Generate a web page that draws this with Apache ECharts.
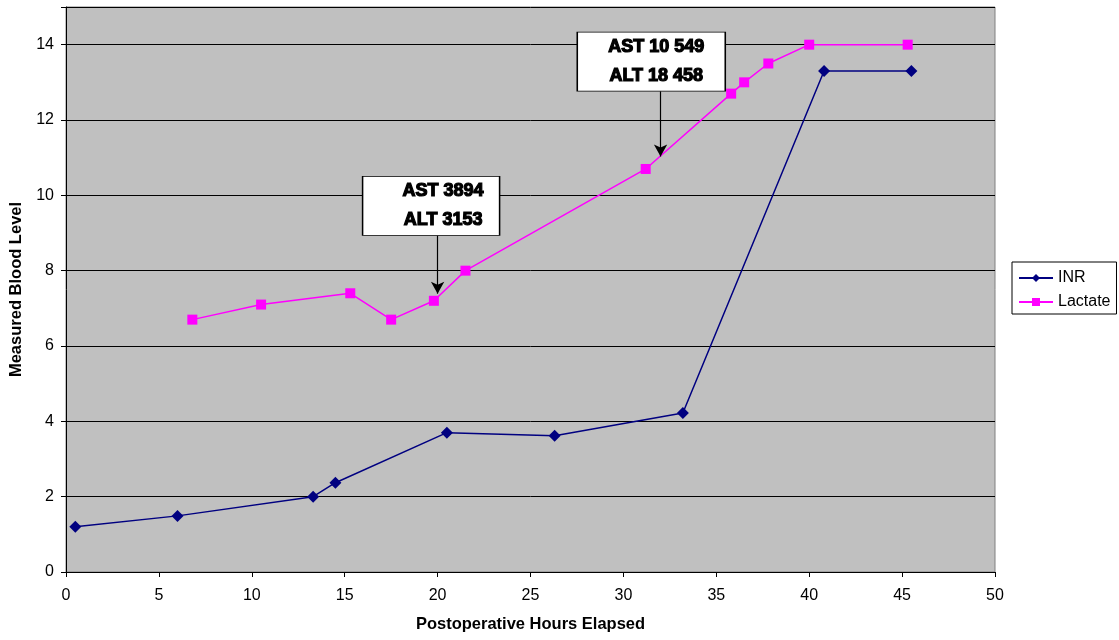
<!DOCTYPE html>
<html>
<head>
<meta charset="utf-8">
<script src="https://cdn.jsdelivr.net/npm/echarts@6/dist/echarts.min.js"></script>
<style>
html,body{margin:0;padding:0;background:#fff;}
#chart{width:1119px;height:640px;}
</style>
</head>
<body>
<div id="chart"></div>
<script>
// Data
var inrHours = [0.5, 6.0, 13.3, 14.5, 20.5, 26.3, 33.2, 40.8, 45.5];
var inrValues = [1.2, 1.49, 2.0, 2.37, 3.7, 3.62, 4.22, 13.3, 13.3];
var lactateHours = [6.8, 10.5, 15.3, 17.5, 19.8, 21.5, 31.2, 35.8, 36.5, 37.8, 40.0, 45.3];
var lactateValues = [6.7, 7.1, 7.4, 6.7, 7.2, 8.0, 10.7, 12.7, 13.0, 13.5, 14.0, 14.0];
var noteTexts = ['AST 3894\nALT 3153', 'AST 10 549\nALT 18 458'];
var noteBoxCenters = [[19.65, 9.72], [31.5, 13.55]];
var noteArrowFrom = [[20.0, 8.93], [32.0, 12.76]];
var noteArrowTo = [[20.0, 7.39], [32.0, 11.03]];
var xTicks = {min: 0, max: 50, interval: 5};
var yTicks = {min: 0, max: 15, interval: 2};

function pairs(xs, ys){ return xs.map(function(x,i){ return [x, ys[i]]; }); }

var chart = echarts.init(document.getElementById('chart'));
var font = 'Liberation Sans, Arial, sans-serif';

var markPointData = noteTexts.map(function(t, i){
  return {
    coord: noteBoxCenters[i],
    symbol: 'rect',
    symbolSize: i === 0 ? [137, 59] : [148, 59],
    itemStyle: {color: '#fff', borderColor: '#000', borderWidth: 1},
    label: {
      show: true, position: 'inside', formatter: t,
      color: '#000', fontFamily: font, fontSize: 18, fontWeight: 'bold',
      textBorderColor: '#000', textBorderWidth: 1.2, lineHeight: 29,
      align: 'center', offset: [i === 0 ? 12 : 5, 0]
    }
  };
});
var markLineData = noteArrowFrom.map(function(f, i){
  return [{coord: f}, {coord: noteArrowTo[i]}];
});

var option = {
  animation: false,
  backgroundColor: '#fff',
  grid: {left: 66, right: 124, top: 7, bottom: 68, show: true,
         backgroundColor: '#C0C0C0', borderColor: '#808080', borderWidth: 1},
  xAxis: {
    type: 'value', min: xTicks.min, max: xTicks.max, interval: xTicks.interval,
    name: 'Postoperative Hours Elapsed', nameLocation: 'middle', nameGap: 44,
    nameTextStyle: {fontFamily: font, fontSize: 16.5, fontWeight: 'bold', color: '#000'},
    axisLine: {show: true, onZero: false, lineStyle: {color: '#000', width: 1}},
    axisTick: {show: true, length: 5, lineStyle: {color: '#000'}},
    axisLabel: {fontFamily: font, fontSize: 16, color: '#000', margin: 16},
    splitLine: {show: false}
  },
  yAxis: {
    type: 'value', min: yTicks.min, max: yTicks.max, interval: yTicks.interval,
    name: 'Measured Blood Level', nameLocation: 'middle', nameGap: 38,
    nameTextStyle: {fontFamily: font, fontSize: 16.5, fontWeight: 'bold', color: '#000'},
    axisLine: {show: true, onZero: false, lineStyle: {color: '#000', width: 1}},
    axisTick: {show: true, length: 5, lineStyle: {color: '#000'}},
    axisLabel: {fontFamily: font, fontSize: 16, color: '#000', margin: 12,
      formatter: function(v){ return v % 2 === 0 ? String(v) : ''; }},
    splitLine: {show: true, lineStyle: {color: '#000', width: 1}}
  },
  legend: {
    orient: 'vertical', left: 1012, top: 262,
    data: ['INR', 'Lactate'],
    borderColor: '#000', borderWidth: 1, borderRadius: 0,
    padding: [8, 6, 4, 6], itemGap: 8, itemWidth: 34, itemHeight: 10,
    textStyle: {fontFamily: font, fontSize: 16, color: '#000'},
    backgroundColor: '#fff'
  },
  series: [
    {
      name: 'INR', type: 'line', data: pairs(inrHours, inrValues),
      symbol: 'diamond', symbolSize: 12,
      lineStyle: {color: '#000080', width: 1.5},
      itemStyle: {color: '#000080'}
    },
    {
      name: 'Lactate', type: 'line', data: pairs(lactateHours, lactateValues),
      symbol: 'rect', symbolSize: 10,
      lineStyle: {color: '#FF00FF', width: 1.5},
      itemStyle: {color: '#FF00FF'},
      markLine: {
        silent: true, symbol: ['none', 'arrow'], symbolSize: [10, 12],
        lineStyle: {color: '#000', width: 1.2, type: 'solid'},
        label: {show: false}, data: markLineData
      },
      markPoint: {silent: true, data: markPointData}
    }
  ]
};
chart.setOption(option);
</script>
</body>
</html>
